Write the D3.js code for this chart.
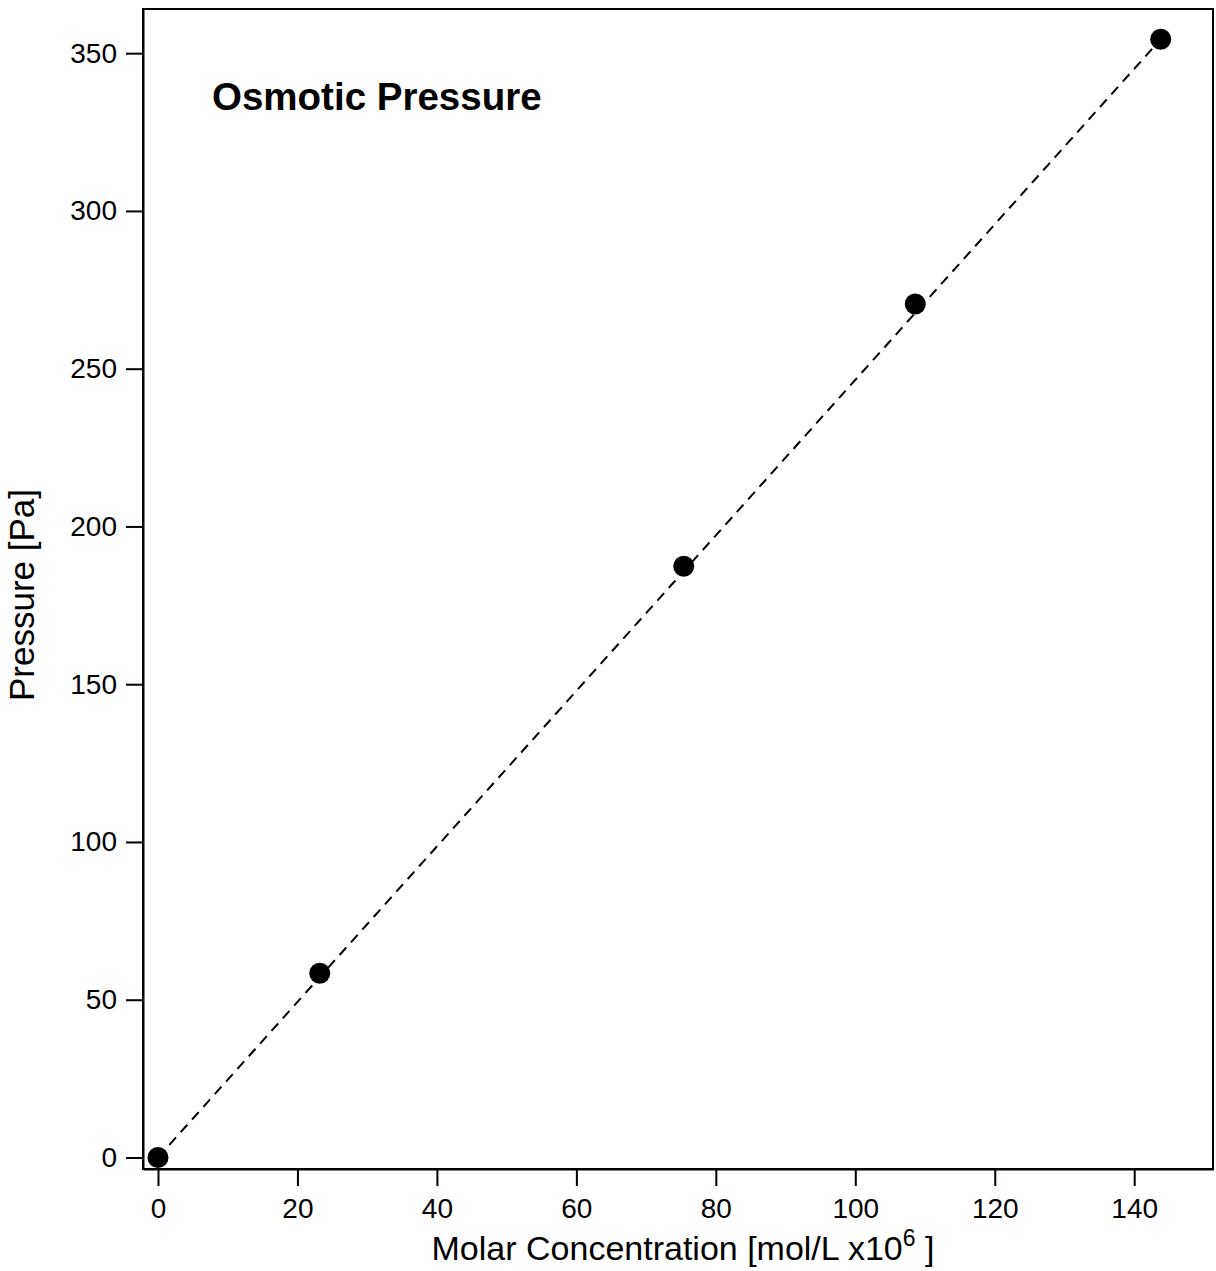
<!DOCTYPE html>
<html>
<head>
<meta charset="utf-8">
<script src="https://cdn.jsdelivr.net/npm/d3@7"></script>
<style>
  body { margin: 0; background: #fff; }
  svg { display: block; font-family: "Liberation Sans", Arial, sans-serif; }
</style>
</head>
<body>
<svg id="chart" width="1216" height="1271"></svg>
<script>
// measured points
const concentration = [0, 23.2, 75.4, 108.6, 143.8];
const pressure = [0, 58.4, 187.4, 270.5, 354.4];
// linear fit drawn dashed
const fitX = [0, 143.8];
const fitY = [0, 354.4];

const xTicks = [0, 20, 40, 60, 80, 100, 120, 140];
const yTicks = [0, 50, 100, 150, 200, 250, 300, 350];

const chartTitle = "Osmotic Pressure";
const yTitle = "Pressure [Pa]";

//
// layout
//
const plot = { left: 143, top: 9, right: 1213, bottom: 1169 };

const svg = d3.select("#chart");

const x = d3.scaleLinear().domain([-2.15, 151.3]).range([plot.left, plot.right]);
const y = d3.scaleLinear().domain([-3.65, 364.0]).range([plot.bottom, plot.top]);

// frame
svg.append("rect")
  .attr("x", plot.left)
  .attr("y", plot.top)
  .attr("width", plot.right - plot.left)
  .attr("height", plot.bottom - plot.top)
  .attr("fill", "none")
  .attr("stroke", "#000")
  .attr("stroke-width", 2);

// axes
const xAxis = svg.append("g")
  .attr("transform", `translate(0,${plot.bottom})`)
  .call(d3.axisBottom(x).tickValues(xTicks).tickSize(17).tickSizeOuter(0)
    .tickPadding(12).tickFormat(d3.format("d")));

const yAxis = svg.append("g")
  .attr("transform", `translate(${plot.left},0)`)
  .call(d3.axisLeft(y).tickValues(yTicks).tickSize(17).tickSizeOuter(0)
    .tickPadding(9).tickFormat(d3.format("d")));

[xAxis, yAxis].forEach(function (g) {
  g.select(".domain").attr("stroke-width", 2);
  g.selectAll(".tick line").attr("stroke-width", 2);
  g.selectAll(".tick text")
    .attr("font-size", 28)
    .attr("font-family", "Liberation Sans, Arial, sans-serif")
    .attr("fill", "#000");
});

// fit line
const line = d3.line().x(d => x(d[0])).y(d => y(d[1]));
svg.append("path")
  .datum(d3.zip(fitX, fitY))
  .attr("d", line)
  .attr("fill", "none")
  .attr("stroke", "#000")
  .attr("stroke-width", 2)
  .attr("stroke-dasharray", "10,7");

// markers
svg.append("g")
  .selectAll("circle")
  .data(d3.zip(concentration, pressure))
  .join("circle")
  .attr("cx", d => x(d[0]))
  .attr("cy", d => y(d[1]))
  .attr("r", 10.5)
  .attr("fill", "#000");

// title inside plot
svg.append("text")
  .attr("x", 212)
  .attr("y", 110)
  .attr("font-size", 38.5)
  .attr("font-weight", "bold")
  .text(chartTitle);

// x title with superscript
const xt = svg.append("text")
  .attr("x", 683)
  .attr("y", 1260)
  .attr("text-anchor", "middle")
  .attr("font-size", 34);
xt.append("tspan").text("Molar Concentration [mol/L x10");
xt.append("tspan").attr("dy", -14).attr("font-size", 23).text("6");
xt.append("tspan").attr("dy", 14).text(" ]");

// y title
svg.append("text")
  .attr("transform", "translate(34,595) rotate(-90)")
  .attr("text-anchor", "middle")
  .attr("font-size", 35)
  .text(yTitle);
</script>
</body>
</html>
